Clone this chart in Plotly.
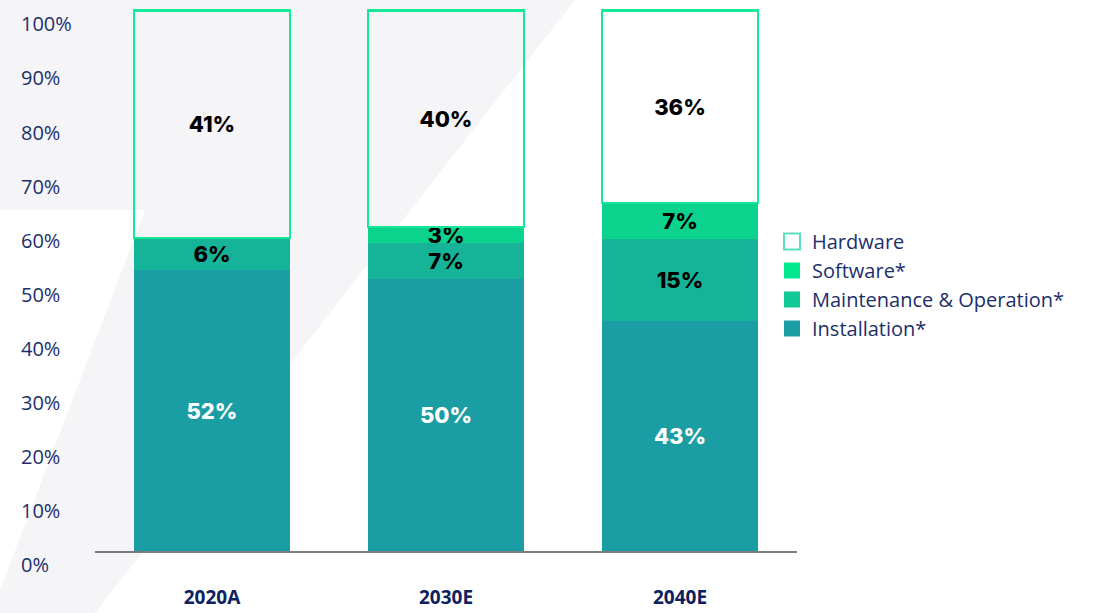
import plotly.graph_objects as go

# data (share of total, %)
years = ["2020A", "2030E", "2040E"]
installation = [51.9, 50.3, 42.5]
maintenance = [6.0, 6.6, 15.2]
software = [0.0, 3.0, 6.7]
hardware = [42.1, 40.1, 35.6]

installation_lbl = ["52%", "50%", "43%"]
maintenance_lbl = ["6%", "7%", "15%"]
software_lbl = ["", "3%", "7%"]
hardware_lbl = ["41%", "40%", "36%"]

y_ticks = [0, 10, 20, 30, 40, 50, 60, 70, 80, 90, 100]
y_tick_text = ["0%", "10%", "20%", "30%", "40%", "50%", "60%", "70%", "80%", "90%", "100%"]

NAVY = "#1c2f6b"
C_INST = "#1a9ea4"
C_MAINT = "#15b398"
C_SOFT = "#0bd38d"
C_HW = "#12e896"

# pixel layout of the 1115x613 canvas
L, R, T, B = 20, 318, 5, 62
W, H = 1115, 613
PW, PH = W - L - R, H - T - B


def px(x, y):
    return (x - L) / PW, (H - B - y) / PH


fig = go.Figure()

label_font = dict(family="Inter", size=22, color="black", weight=800)

fig.add_trace(go.Bar(x=years, y=installation, name="Installation*",
                     marker=dict(color=C_INST, line=dict(width=0)),
                     text=installation_lbl, textposition="inside",
                     insidetextanchor="middle", textangle=0, constraintext="none",
                     insidetextfont=dict(family="Inter", size=22, color="white", weight=800),
                     showlegend=False))
fig.add_trace(go.Bar(x=years, y=maintenance, name="Maintenance & Operation*",
                     marker=dict(color=C_MAINT, line=dict(width=0)),
                     text=maintenance_lbl, textposition="inside",
                     insidetextanchor="middle", textangle=0, constraintext="none",
                     insidetextfont=label_font, showlegend=False))
fig.add_trace(go.Bar(x=years, y=software, name="Software*",
                     marker=dict(color=C_SOFT, line=dict(width=0)),
                     text=software_lbl, textposition="inside",
                     insidetextanchor="middle", textangle=0, constraintext="none",
                     insidetextfont=label_font, showlegend=False))
fig.add_trace(go.Bar(x=years, y=hardware, name="Hardware",
                     marker=dict(color="rgba(0,0,0,0)", line=dict(color=C_HW, width=2.5)),
                     text=hardware_lbl, textposition="inside",
                     insidetextanchor="middle", textangle=0, constraintext="none",
                     insidetextfont=label_font, showlegend=False))

# legend entries with larger squares
legend_items = [("Hardware", "white", "#5cdcc0", 2),
                ("Software*", "#00e88f", "#00e88f", 0),
                ("Maintenance & Operation*", "#10c994", "#10c994", 0),
                ("Installation*", C_INST, C_INST, 0)]
for name, fill, edge, lw in legend_items:
    fig.add_trace(go.Scatter(x=[None], y=[None], mode="markers", name=name,
                             marker=dict(symbol="square", size=19, color=fill,
                                         line=dict(color=edge, width=lw))))

# light grey diagonal background
pts = [(0, 0), (575, 0), (95, 613), (0, 613), (0, 590), (145, 210), (0, 210)]
path = "M " + " L ".join(f"{a:.4f},{b:.4f}" for a, b in (px(x, y) for x, y in pts)) + " Z"
fig.add_shape(type="path", path=path, xref="paper", yref="paper",
              fillcolor="#f5f5f8", line=dict(width=0), layer="below")

fig.update_layout(
    barmode="stack",
    bargap=0.333,
    width=W, height=H,
    margin=dict(l=L, r=R, t=T, b=B, autoexpand=False),
    paper_bgcolor="white",
    plot_bgcolor="rgba(0,0,0,0)",
    xaxis=dict(domain=[(95 - L) / PW, 1], showline=True, linecolor="rgba(0,0,0,0.5)",
               linewidth=2, showgrid=False, ticks="", ticklabelstandoff=28,
               automargin=False,
               tickfont=dict(family="Open Sans", size=19, color="#0d2160", weight="bold")),
    yaxis=dict(range=[0, 101], anchor="free", position=0, side="right",
               tickvals=y_ticks, ticktext=y_tick_text, showgrid=False, zeroline=False,
               showline=False, ticks="", ticklabelshift=14, automargin=False,
               tickfont=dict(family="Open Sans", size=20, color=NAVY)),
    legend=dict(x=(772 - L) / PW, y=px(0, 222)[1], xanchor="left", yanchor="top",
                traceorder="normal",
                font=dict(family="Open Sans", size=20, color=NAVY),
                bgcolor="rgba(0,0,0,0)", itemsizing="trace"),
    showlegend=True,
)

fig.write_html("out.html", config={"displayModeBar": False},
               post_script="document.body.style.margin='0';")
